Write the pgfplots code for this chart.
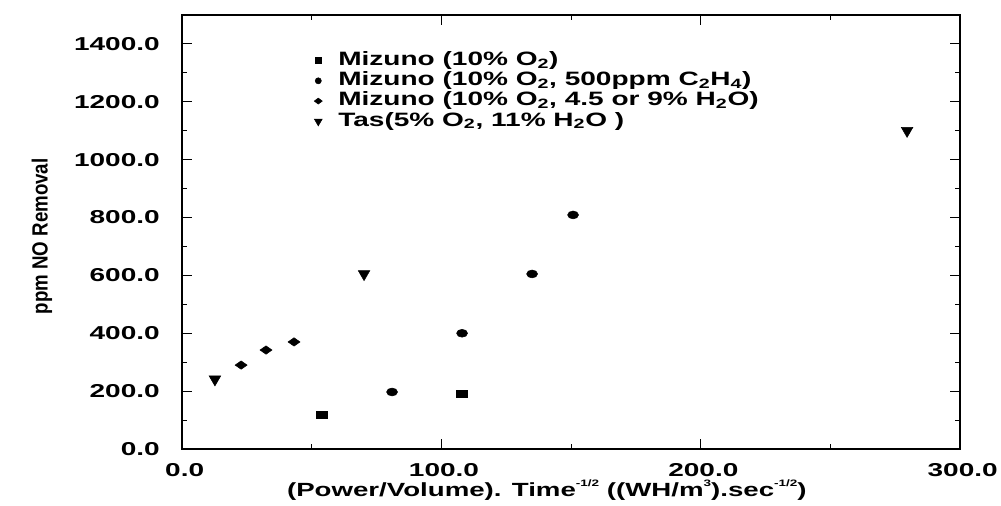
\documentclass[border=0pt]{standalone}
\usepackage{pgfplots}
\pgfplotsset{compat=1.18}
\usepackage{fontspec}
\setmainfont{Liberation Sans}
\newfontfamily\wide{Liberation Sans}[FakeStretch=1.45]
\newfontfamily\wider{Liberation Sans}[FakeStretch=1.5]
\newfontfamily\narrowfont{Liberation Sans}[FakeStretch=0.85]
\newcommand{\tf}{\wider\bfseries\fontsize{14}{16}\selectfont}
\newcommand{\lf}{\wide\bfseries\fontsize{14.5}{16}\selectfont}
\newcommand{\xf}{\wide\bfseries\fontsize{14.3}{16}\selectfont}
\newcommand{\sups}[1]{\raisebox{0.5em}{\fontsize{7}{7}\selectfont #1}}
\begin{document}
\begin{tikzpicture}
\begin{axis}[
  at={(0,0)}, anchor=south west,
  scale only axis, width=583.5pt, height=325.5pt,
  xmin=0, xmax=300, ymin=0, ymax=1500,
  xtick={0,100,200,300}, ytick={0,200,400,600,800,1000,1200,1400},
  minor x tick num=1, minor y tick num=1,
  tick align=inside,
  major tick length=7.5pt, minor tick length=4pt,
  axis line style={line width=0.9pt},
  every tick/.style={black, line width=0.7pt},
  tick label style={font=\tf, inner sep=0pt},
  /pgf/number format/assume math mode=true,
  /pgf/number format/fixed,
  /pgf/number format/fixed zerofill,
  /pgf/number format/precision=1,
  /pgf/number format/1000 sep={},
  yticklabel style={xshift=-16.5pt},
  xticklabel style={yshift=-10.5pt, xshift=2pt},
  xlabel={(Power/Volume). Time\sups{-1/2} ((WH/m\sups{3}).sec\sups{-1/2})},
  xlabel style={at={(axis description cs:0.469,0)}, anchor=north, yshift=-23pt, inner sep=0pt, font=\xf},
  ylabel={ppm NO Removal},
  ylabel style={at={(axis description cs:-0.18,0.49)}, anchor=center, inner sep=0pt, font=\narrowfont\bfseries\fontsize{16.5}{19}\selectfont},
  legend style={draw=none, fill=none, at={(axis description cs:0.1697,0.9156)}, anchor=north west,
    inner sep=0pt, row sep=2.2pt, column sep=12pt, font=\lf,
    nodes={inner sep=0pt, text height=10pt, text depth=3pt}},
  legend cell align=left,
]
\addlegendimage{only marks, mark=square*, mark size=2.2pt, black}
\addlegendimage{only marks, mark=*, mark size=2.3pt, black}
\addlegendimage{only marks, mark=diamond*, mark size=4pt, mark options={yscale=0.56}, black}
\addlegendimage{only marks, mark=triangle*, mark size=3.4pt, mark options={rotate=180}, black}
\legend{Mizuno (10\% O\textsubscript{2}),
        {Mizuno (10\% O\textsubscript{2}, 500ppm C\textsubscript{2}H\textsubscript{4})},
        {Mizuno (10\% O\textsubscript{2}, 4.5 or 9\% H\textsubscript{2}O)},
        {Tas(5\% O\textsubscript{2}, 11\% H\textsubscript{2}O )}}
% Mizuno (10% O2)
\addplot[forget plot, only marks, mark=square*, mark size=4pt, mark options={yscale=0.65}, black] coordinates {
  (54.0,117) (108.0,190)};
% Mizuno (10% O2, 500ppm C2H4)
\addplot[forget plot, only marks, mark=*, mark size=4.1pt, mark options={yscale=0.72}, black] coordinates {
  (81,197) (108,400) (135,605) (150.8,809)};
% Mizuno (10% O2, 4.5 or 9% H2O)
\addplot[forget plot, only marks, mark=diamond*, mark size=6pt, mark options={yscale=0.52}, black] coordinates {
  (22.8,290) (32.4,342) (43.2,370)};
% Tas (5% O2, 11% H2O)
\addplot[forget plot, only marks, mark=triangle*, mark size=5pt, mark options={rotate=180}, black] coordinates {
  (12.7,241) (70.2,605) (279.6,1100)};
\end{axis}
\path[use as bounding box] (-136.5pt,-42.75pt) rectangle (614.25pt,336.75pt);
\end{tikzpicture}
\end{document}
